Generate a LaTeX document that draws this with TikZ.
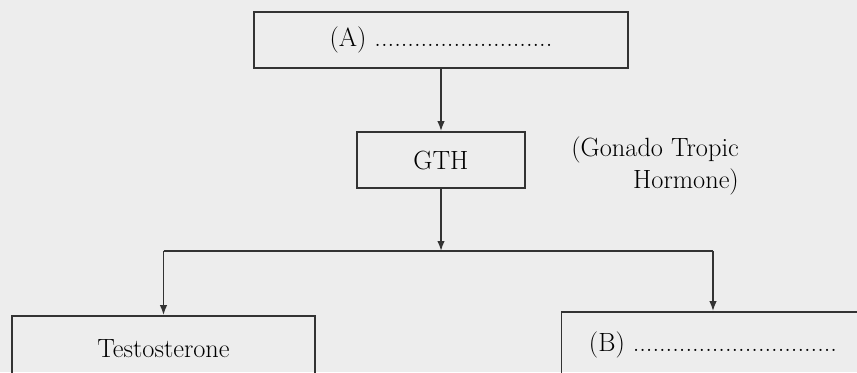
\documentclass[tikz,border=0pt]{standalone}
\usepackage{tikz}
\usetikzlibrary{arrows.meta, positioning}
\usepackage{xcolor}
\tikzset{
  caja/.style={rectangle, draw=black!80, line width=1pt, fill=none,
               minimum height=1.12cm, align=center,
               font=\fontsize{15}{18}\selectfont},
  flecha/.style={-{Latex[length=2mm, width=1.5mm]}, line width=0.9pt, draw=black!80}
}

\begin{document}
\begin{tikzpicture}[
  etiqueta/.style={font=\fontsize{15}{18}\selectfont, align=right, text=black},
  linea/.style={line width=0.9pt, draw=black!80}
]
  % ── Fondo y recorte ──
  \clip (0,0) rectangle (17.14,7.44);
  \fill[black!7] (0,0) rectangle (17.14,7.44);

  % ── Cajas ──
  \node[caja, minimum width=7.48cm]              (a)     at (8.82,6.64)
        {(A) ...........................};
  \node[caja, minimum width=3.36cm]              (gth)   at (8.82,4.24) {GTH};
  \node[etiqueta, anchor=east]                   (nota)  at (14.9,4.12)
        {(Gonado Tropic\\Hormone)};
  \coordinate                                    (union) at (8.82,2.42);
  \node[caja, minimum width=6.06cm, minimum height=1.3cm] (testo) at (3.27,0.47)
        {Testosterone};
  \node[caja, minimum width=6.06cm, minimum height=1.3cm] (b)     at (14.26,0.55)
        {(B) ...............................};

  % ── Flechas ──
  \draw[flecha] (a) -- (gth);
  \draw[flecha] (gth) -- (union);
  \draw[linea] (testo.north |- union) -- (b.north |- union);
  \draw[flecha] (testo.north |- union) -- (testo.north);
  \draw[flecha] (b.north |- union) -- (b.north);
\end{tikzpicture}
\end{document}
